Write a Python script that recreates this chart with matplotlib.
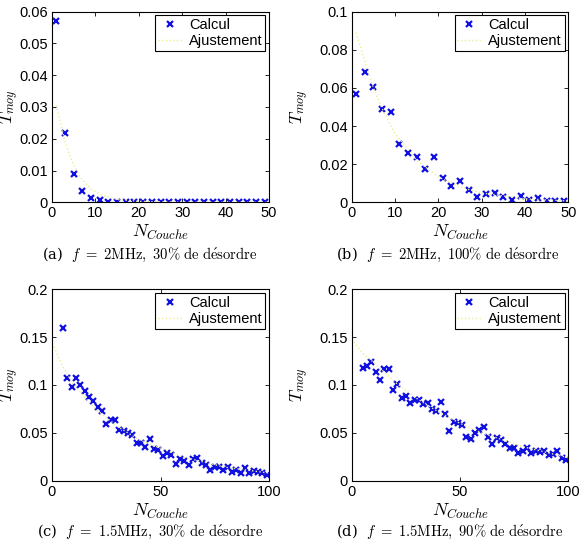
import numpy as np
import matplotlib
matplotlib.use("Agg")
import matplotlib.pyplot as plt

plt.rcParams['mathtext.fontset'] = 'cm'
plt.rcParams['font.family'] = ['Liberation Sans', 'DejaVu Sans']

# (a) f = 2MHz, 30% de desordre
xa = list(range(1, 50, 2))
ya = [0.0570, 0.0219, 0.0088, 0.0036, 0.0015, 0.0006, 0.0002] + [0.0] * 18
fit_xa = [1, 3, 5, 7, 9, 11, 15, 20, 30, 50]
fit_ya = [0.0305, 0.0190, 0.0115, 0.0070, 0.0042, 0.0025, 0.0009, 0.0003, 0.0, 0.0]

# (b) f = 2MHz, 100% de desordre
xb = list(range(1, 50, 2))
yb = [0.0566, 0.0684, 0.0605, 0.0491, 0.0472, 0.0308, 0.0257, 0.0238, 0.0177, 0.0238,
      0.0129, 0.0086, 0.0112, 0.0066, 0.0030, 0.0042, 0.0050, 0.0030, 0.0010, 0.0031,
      0.0012, 0.0023, 0.0007, 0.0009, 0.0005]
fit_xb = [1, 5, 7, 10, 15, 20, 25, 30, 40, 50]
fit_yb = [0.0890, 0.0600, 0.0493, 0.0360, 0.0220, 0.0133, 0.0080, 0.0049, 0.0018, 0.0007]

# (c) f = 1.5MHz, 30% de desordre
xc = list(range(5, 100, 2))
yc = [0.1596, 0.1077, 0.0983, 0.1073, 0.0997, 0.0937, 0.0871, 0.0829, 0.0774, 0.0728,
      0.0592, 0.0638, 0.0631, 0.0533, 0.0523, 0.0498, 0.0474, 0.0397, 0.0390, 0.0355,
      0.0439, 0.0334, 0.0317, 0.0254, 0.0289, 0.0264, 0.0176, 0.0229, 0.0204, 0.0169,
      0.0225, 0.0232, 0.0190, 0.0169, 0.0113, 0.0148, 0.0141, 0.0116, 0.0141, 0.0092,
      0.0116, 0.0085, 0.0134, 0.0085, 0.0099, 0.0092, 0.0077, 0.0063]
fit_xc = [1, 5, 10, 20, 30, 40, 60, 80, 100]
fit_yc = [0.1400, 0.1190, 0.1000, 0.0750, 0.0570, 0.0430, 0.0250, 0.0140, 0.0080]

# (d) f = 1.5MHz, 90% de desordre
xd = list(range(5, 100, 2))
yd = [0.1175, 0.1196, 0.1238, 0.1140, 0.1056, 0.1168, 0.1168, 0.0944, 0.1007, 0.0860,
      0.0881, 0.0811, 0.0846, 0.0839, 0.0804, 0.0811, 0.0748, 0.0727, 0.0818, 0.0699,
      0.0524, 0.0615, 0.0601, 0.0584, 0.0455, 0.0434, 0.0497, 0.0531, 0.0566, 0.0455,
      0.0385, 0.0448, 0.0423, 0.0381, 0.0343, 0.0343, 0.0287, 0.0308, 0.0343, 0.0287,
      0.0308, 0.0304, 0.0311, 0.0266, 0.0280, 0.0315, 0.0234, 0.0217]
fit_xd = [1, 5, 10, 20, 30, 40, 50, 60, 80, 100]
fit_yd = [0.1450, 0.1330, 0.1240, 0.1030, 0.0860, 0.0720, 0.0600, 0.0500, 0.0350, 0.0240]

captions = [
    r'(a)  $f\ \mathrm{=\ 2MHz,\ 30\%\ de\ d\acute{e}sordre}$',
    r'(b)  $f\ \mathrm{=\ 2MHz,\ 100\%\ de\ d\acute{e}sordre}$',
    r'(c)  $f\ \mathrm{=\ 1.5MHz,\ 30\%\ de\ d\acute{e}sordre}$',
    r'(d)  $f\ \mathrm{=\ 1.5MHz,\ 90\%\ de\ d\acute{e}sordre}$',
]

panels = [
    (xa, ya, fit_xa, fit_ya, 50, [0, 10, 20, 30, 40, 50], 0.06, [0, 0.01, 0.02, 0.03, 0.04, 0.05, 0.06],
     ['0', '0.01', '0.02', '0.03', '0.04', '0.05', '0.06']),
    (xb, yb, fit_xb, fit_yb, 50, [0, 10, 20, 30, 40, 50], 0.1, [0, 0.02, 0.04, 0.06, 0.08, 0.1],
     ['0', '0.02', '0.04', '0.06', '0.08', '0.1']),
    (xc, yc, fit_xc, fit_yc, 100, [0, 50, 100], 0.2, [0, 0.05, 0.1, 0.15, 0.2],
     ['0', '0.05', '0.1', '0.15', '0.2']),
    (xd, yd, fit_xd, fit_yd, 100, [0, 50, 100], 0.2, [0, 0.05, 0.1, 0.15, 0.2],
     ['0', '0.05', '0.1', '0.15', '0.2']),
]

# axes boxes in pixels: left, top, right, bottom
boxes = [(52, 11.7, 269, 202.3), (351.7, 11.7, 568.3, 202.3),
         (52, 289.3, 269, 480.7), (351.7, 289.3, 568.3, 480.7)]
caption_pos = [(150, 255), (448, 255), (150, 532), (450, 532)]
ylabel_x = [10, 300, 10, 300]
W, H = 585, 549

fig = plt.figure(figsize=(5.85, 5.49), dpi=100)

for (x, y, fx, fy, xmax, xt, ymax, yt, ytl), cap, (l, t, r, b), (cx, cy), lx in zip(
        panels, captions, boxes, caption_pos, ylabel_x):
    ax = fig.add_axes([l / W, (H - b) / H, (r - l) / W, (b - t) / H])
    ax.plot(x, y, 'x', color='#1010e0', ms=4.5, mew=1.6, label='Calcul')
    ax.plot(fx, fy, ':', color='#eeee90', lw=1.0, label='Ajustement')
    ax.set_xlim(0, xmax)
    ax.set_ylim(0, ymax)
    ax.set_xticks(xt)
    ax.set_yticks(yt)
    ax.set_yticklabels(ytl)
    ax.tick_params(direction='in', top=True, right=True, labelsize=10.5, length=3, width=0.6, pad=3)
    for s in ax.spines.values():
        s.set_linewidth(0.8)
    ax.set_xlabel(r'$N_{Couche}$', fontsize=13, labelpad=2)
    fig.text(lx / W, 1 - (t + b) / 2 / H, r'$T_{moy}$', fontsize=12.5, rotation=90,
             ha='center', va='center')
    leg = ax.legend(loc='upper right', fontsize=10.5, numpoints=1, fancybox=False,
                    edgecolor='black', framealpha=1, borderaxespad=0.25,
                    handlelength=1.6, handletextpad=0.5, borderpad=0.2, labelspacing=0.15)
    leg.get_frame().set_linewidth(0.8)
    fig.text(cx / W, 1 - cy / H, cap, ha='center', va='center', fontsize=10.5,
             family=['DejaVu Serif'])

fig.savefig('out.png', dpi=100)
